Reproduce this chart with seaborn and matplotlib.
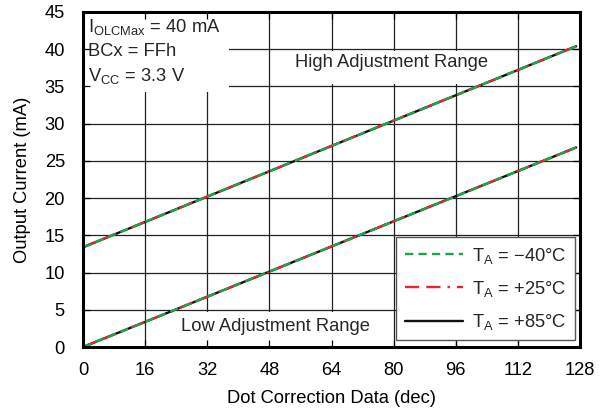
import matplotlib
matplotlib.use("Agg")
import matplotlib.pyplot as plt
from matplotlib.patches import Rectangle
import seaborn as sns
import pandas as pd

sns.set_theme(style="white")
plt.rcParams['font.family'] = ['Liberation Sans', 'DejaVu Sans']

dot_data = [0, 127]
low_range = [0.0, 26.8]
high_range = [13.4, 40.4]
series = ["T$_\\mathregular{A}$ = \u221240\u00b0C", "T$_\\mathregular{A}$ = +25\u00b0C", "T$_\\mathregular{A}$ = +85\u00b0C"]
xticks = [0, 16, 32, 48, 64, 80, 96, 112, 128]
yticks = [0, 5, 10, 15, 20, 25, 30, 35, 40, 45]

FS = 13.2
fig = plt.figure(figsize=(6.04, 4.12), dpi=100)
ax = fig.add_axes([83 / 604, 65 / 412, 497 / 604, 335 / 412])

styles = [
    dict(color="#1aa64a", dashes=(3.5, 2.2), lw=1.7),
    dict(color="#e8252b", dashes=(6, 3, 6, 3, 1, 3), lw=1.7),
    dict(color="#111111", dashes=(), lw=1.7),
]
order = [2, 1, 0]
handles = {}
for i in order:
    st = styles[i]
    for k, vals in enumerate([low_range, high_range]):
        df = pd.DataFrame({"x": dot_data, "y": vals})
        sns.lineplot(data=df, x="x", y="y", ax=ax, color=st["color"], lw=st["lw"], zorder=2)
        line = ax.lines[-1]
        if st["dashes"]:
            line.set_dashes(st["dashes"])
        if k == 0:
            handles[i] = line

ax.set_xlim(0, 128)
ax.set_ylim(0, 45)
ax.set_xticks(xticks)
ax.set_yticks(yticks)
ax.grid(False)
for xv in xticks[1:-1]:
    ax.axvline(xv, color="#222222", lw=0.9, zorder=0.6)
for yv in yticks[1:-1]:
    ax.axhline(yv, color="#222222", lw=0.9, zorder=0.6)

# white label boxes hiding the grid
ax.add_patch(Rectangle((0, 34.3), 37.6, 10.7, facecolor="white", edgecolor="none", zorder=1))
ax.add_patch(Rectangle((52, 35.3), 56, 4.4, facecolor="white", edgecolor="none", zorder=1))
ax.add_patch(Rectangle((20, 0), 58, 4.7, facecolor="white", edgecolor="none", zorder=1))

ax.set_axisbelow(False)
for s in ax.spines.values():
    s.set_linewidth(2.2)
    s.set_color("black")
ax.tick_params(axis="both", labelsize=FS, colors="black", direction="in", length=5, width=0.9,
               top=True, right=True, bottom=True, left=True)
ax.tick_params(axis="x", pad=11)
ax.tick_params(axis="y", pad=13)
ax.set_xlabel("Dot Correction Data (dec)", fontsize=FS, labelpad=8, color="black")
ax.set_ylabel("Output Current (mA)", fontsize=FS, labelpad=10, color="black")

ax.text(1.2, 44.3, "I$_\\mathregular{OLCMax}$ = 40 mA\nBCx = FFh\nV$_\\mathregular{CC}$ = 3.3 V",
        fontsize=FS, va="top", ha="left", linespacing=1.42, zorder=3)
ax.text(79.5, 38.2, "High Adjustment Range", fontsize=FS, ha="center", va="center", zorder=3)
ax.text(49.5, 2.8, "Low Adjustment Range", fontsize=FS, ha="center", va="center", zorder=3)

leg = ax.legend([handles[0], handles[1], handles[2]], series, loc="lower right",
                bbox_to_anchor=(0.99, 0.02),
                fontsize=FS, frameon=True, fancybox=False, edgecolor="#555555",
                handlelength=3.2, handletextpad=0.5, borderaxespad=0.0, labelspacing=0.72,
                borderpad=0.45)
leg.get_frame().set_linewidth(1)
leg.get_frame().set_alpha(1)

fig.savefig("out.png", dpi=100)
